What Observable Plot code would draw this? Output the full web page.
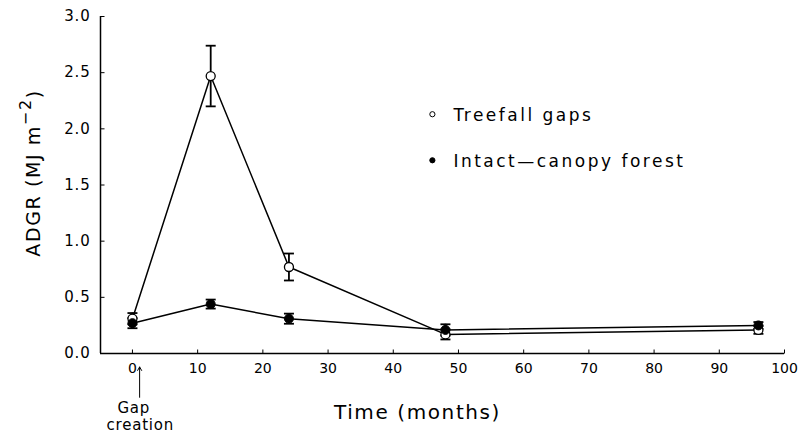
<!DOCTYPE html>
<html>
<head>
<meta charset="utf-8">
<script src="https://cdn.jsdelivr.net/npm/d3@7"></script>
<script src="https://cdn.jsdelivr.net/npm/@observablehq/plot@0.6"></script>
<style>
  html, body { margin: 0; padding: 0; background: #fff; }
  #chart svg { font-family: "DejaVu Sans", sans-serif; }
</style>
</head>
<body>
<div id="chart"></div>
<script>
// Data
const months = [0, 12, 24, 48, 96];
const treefallGaps = [0.31, 2.47, 0.77, 0.17, 0.21];
const treefallSE = [0.05, 0.27, 0.12, 0.045, 0.035];
const intactForest = [0.27, 0.44, 0.31, 0.21, 0.25];
const intactSE = [0.045, 0.04, 0.045, 0.05, 0.03];
const seriesNames = ["Treefall gaps", "Intact\u2014canopy forest"];
const xTicks = [0, 10, 20, 30, 40, 50, 60, 70, 80, 90, 100];
const yTicks = [0, 0.5, 1.0, 1.5, 2.0, 2.5, 3.0];

const gaps = months.map((m, i) => ({month: m, value: treefallGaps[i], se: treefallSE[i]}));
const intact = months.map((m, i) => ({month: m, value: intactForest[i], se: intactSE[i]}));

const capSymbol = {draw(ctx) { ctx.moveTo(-5, 0); ctx.lineTo(5, 0); }};
const yTickSymbol = {draw(ctx) { ctx.moveTo(0, 0); ctx.lineTo(4, 0); }};
const xTickSymbol = {draw(ctx) { ctx.moveTo(0, 0); ctx.lineTo(0, -4); }};

function errorMarks(data) {
  return [
    Plot.ruleX(data, {x: "month", y1: d => d.value - d.se, y2: d => d.value + d.se, stroke: "#000", strokeWidth: 1.8}),
    Plot.dot(data, {x: "month", y: d => d.value + d.se, symbol: capSymbol, r: 5, stroke: "#000", strokeWidth: 1.8, fill: "none"}),
    Plot.dot(data, {x: "month", y: d => d.value - d.se, symbol: capSymbol, r: 5, stroke: "#000", strokeWidth: 1.8, fill: "none"})
  ];
}

const legend = [
  {x: 46, y: 2.13, name: seriesNames[0], open: true},
  {x: 46, y: 1.72, name: seriesNames[1], open: false}
];

const xMin = -4.9;

const chart = Plot.plot({
  width: 798,
  height: 433,
  marginLeft: 100,
  marginRight: 14,
  marginTop: 16,
  marginBottom: 80,
  style: {fontFamily: "DejaVu Sans, sans-serif", background: "#fff", color: "#000"},
  x: {domain: [xMin, 100], ticks: xTicks},
  y: {domain: [0, 3], ticks: yTicks},
  marks: [
    Plot.ruleY([0], {stroke: "#000", strokeWidth: 1.5}),
    Plot.ruleX([xMin], {stroke: "#000", strokeWidth: 1.5}),
    Plot.dot(xTicks, {x: d => d, y: 0, symbol: xTickSymbol, r: 4, stroke: "#000", strokeWidth: 1, fill: "none"}),
    Plot.dot(yTicks, {x: xMin, y: d => d, symbol: yTickSymbol, r: 4, stroke: "#000", strokeWidth: 1, fill: "none"}),
    Plot.axisX({ticks: xTicks, tickSize: 0, tickPadding: 10, tickFormat: d => String(d), fontSize: 14, label: null}),
    Plot.axisY({ticks: yTicks, tickSize: 0, tickPadding: 10, tickFormat: d => d.toFixed(1), fontSize: 15, label: null}),
    Plot.line(gaps, {x: "month", y: "value", stroke: "#000", strokeWidth: 1.5}),
    Plot.line(intact, {x: "month", y: "value", stroke: "#000", strokeWidth: 1.5}),
    ...errorMarks(gaps),
    ...errorMarks(intact),
    Plot.dot(gaps, {x: "month", y: "value", r: 4.5, fill: "#fff", stroke: "#000", strokeWidth: 1.3}),
    Plot.dot(intact, {x: "month", y: "value", r: 4.5, fill: "#000", stroke: "#000", strokeWidth: 1}),
    // legend
    Plot.dot(legend, {x: "x", y: "y", r: 2.6, fill: d => d.open ? "#fff" : "#000", stroke: "#000", strokeWidth: 1}),
    Plot.text(legend, {x: "x", y: "y", text: "name", dx: 21, dy: 1, textAnchor: "start", fontSize: 17, fill: "#000", className: "legendtext"}),
    // axis titles
    Plot.text(["Time (months)"], {frameAnchor: "bottom", dx: -25, dy: 65, fontSize: 20, fill: "#000", className: "spaced"}),
    Plot.text(["ADGR (MJ m\u22122)"], {frameAnchor: "left", dx: -67, dy: -12, rotate: -90, fontSize: 19, fill: "#000", className: "ylabel"}),
    // gap creation annotation
    Plot.arrow([{x: 1.1}], {x1: "x", x2: "x", y1: -0.39, y2: -0.12, stroke: "#000", strokeWidth: 1, headLength: 6}),
    Plot.text([{x: 0.2}], {x: "x", y: -0.49, text: () => "Gap", fontSize: 15, fill: "#000", className: "small"}),
    Plot.text([{x: 1.2}], {x: "x", y: -0.64, text: () => "creation", fontSize: 15, fill: "#000", className: "small"})
  ]
});

// letter spacing to mimic the wide plotter font
d3.select(chart).selectAll("g.spaced text").attr("letter-spacing", "1.6px");
d3.select(chart).selectAll("g.legendtext text").attr("letter-spacing", "2.5px");
d3.select(chart).selectAll("g.small text").attr("letter-spacing", "0.8px");
d3.select(chart).selectAll("g[aria-label='y-axis tick label'] text").attr("letter-spacing", "0.8px");
// superscript in the y label
d3.select(chart).selectAll("g.ylabel text").each(function() {
  const t = d3.select(this);
  t.text(null).attr("letter-spacing", "1.6px").attr("text-anchor", "middle");
  t.append("tspan").text("ADGR (MJ m");
  t.append("tspan").attr("dy", "-0.55em").attr("font-size", "16px").text("\u22122");
  t.append("tspan").attr("dy", "0.55em").text(")");
});

document.getElementById("chart").appendChild(chart);
</script>
</body>
</html>
